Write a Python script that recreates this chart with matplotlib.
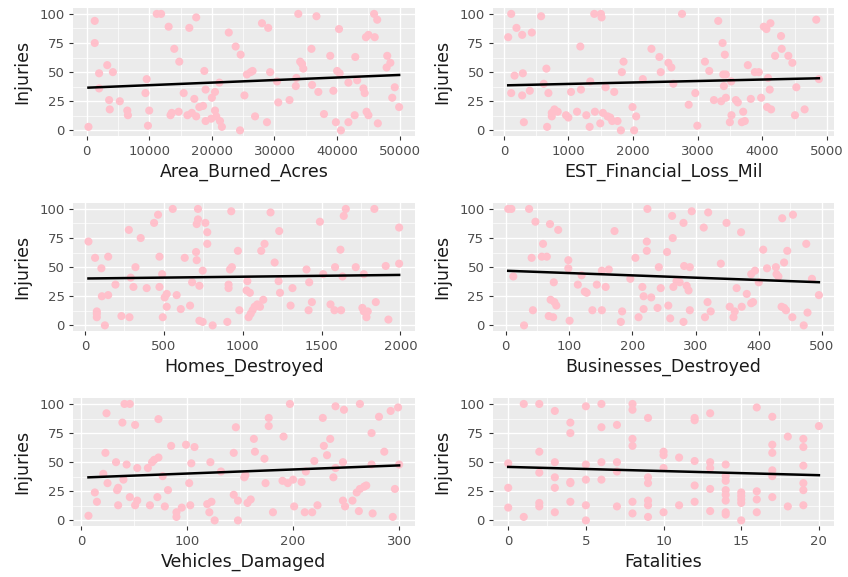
import numpy as np
import matplotlib
matplotlib.use('Agg')
import matplotlib.pyplot as plt
from matplotlib.ticker import MultipleLocator

plt.rcParams['font.family'] = ['DejaVu Sans']

# Area_Burned_Acres vs Injuries
area_x = [300, 1300, 1300, 2000, 2000, 3300, 3600, 3700, 4200, 5300, 6500, 6600,
          9600, 9400, 10000, 9800, 11200, 11900, 13100, 13400, 13600, 14000, 14800,
          14700, 15500, 16100, 16400, 16800, 17500, 17200, 17500, 18000, 18600,
          18800, 19000, 19000, 19900, 20000, 20500, 20500, 20700, 21200, 21300,
          21600, 22700, 23800, 24500, 24600, 25200, 25600, 26200, 26500, 26900,
          28000, 29000, 28800, 29300, 30400, 30600, 32400, 33500, 33400, 33800,
          34100, 34400, 34600, 35900, 36000, 36700, 37000, 37900, 38900, 39400,
          39800, 40000, 40400, 40300, 40600, 41800, 41800, 42900, 42800, 43200,
          44200, 44400, 44600, 44700, 45000, 45000, 45900, 46000, 46400, 46500,
          47900, 48000, 48500, 48800, 49200, 49900]
area_y = [3, 94, 75, 49, 36, 56, 26, 18, 50, 25, 17, 13,
          44, 32, 17, 4, 100, 100, 89, 13, 15, 70, 59,
          16, 32, 13, 88, 15, 97, 27, 12, 20, 21,
          51, 35, 8, 10, 28, 33, 17, 12, 41, 8,
          3, 84, 72, 0, 65, 30, 48, 50, 51, 12,
          92, 88, 7, 50, 42, 24, 26, 45, 38, 100,
          59, 57, 53, 70, 39, 98, 33, 14, 64, 34,
          7, 51, 49, 87, 0, 7, 41, 63, 13, 43,
          36, 32, 80, 16, 82, 13, 100, 80, 95, 6,
          54, 64, 58, 28, 37, 20]

# EST_Financial_Loss_Mil vs Injuries
loss_x = [67, 113, 113, 195, 165, 283, 293, 283, 309, 401, 432, 576, 617, 658,
          669, 689, 741, 741, 782, 833, 962, 998, 1039, 1132, 1193, 1183, 1276,
          1327, 1337, 1399, 1409, 1492, 1502, 1512, 1533, 1574, 1605, 1646, 1677,
          1708, 1759, 1811, 1826, 1852, 1991, 2016, 2047, 2150, 2284, 2407, 2428,
          2546, 2592, 2623, 2757, 2860, 2963, 2994, 3112, 3179, 3251, 3318, 3364,
          3385, 3395, 3405, 3420, 3436, 3436, 3518, 3498, 3523, 3590, 3621, 3683,
          3704, 3729, 3776, 3822, 3884, 3946, 3982, 4023, 4064, 4089, 4074, 4115,
          4126, 4136, 4198, 4290, 4300, 4403, 4465, 4506, 4527, 4655, 4835, 4876]
loss_y = [80, 100, 32, 88, 47, 82, 49, 30, 7, 34, 84, 98, 40, 53,
          3, 32, 15, 12, 18, 16, 13, 11, 33, 16, 35, 72, 13,
          3, 42, 100, 16, 6, 100, 97, 15, 37, 12, 11, 8,
          33, 8, 0, 50, 59, 20, 0, 12, 44, 70, 63, 50,
          58, 54, 40, 100, 22, 32, 4, 59, 51, 26, 94, 25,
          75, 48, 38, 65, 28, 48, 42, 7, 13, 26, 24, 7,
          16, 8, 56, 27, 50, 50, 28, 89, 87, 45, 20, 35,
          92, 18, 64, 81, 70, 64, 58, 13, 37, 18, 95, 44]

# Homes_Destroyed vs Injuries
homes_x = [23, 65, 76, 76, 76, 105, 108, 127, 148, 148, 194, 232, 283, 279,
           291, 308, 321, 354, 392, 439, 464, 473, 473, 490, 494, 506, 519, 519,
           557, 582, 608, 633, 667, 680, 705, 709, 709, 717, 717, 726, 726, 747,
           747, 764, 776, 776, 810, 903, 911, 911, 920, 932, 928, 970, 979, 1030,
           1025, 1038, 1046, 1051, 1063, 1076, 1093, 1110, 1118, 1131, 1139, 1177,
           1203, 1228, 1232, 1237, 1304, 1316, 1405, 1418, 1422, 1439, 1490, 1511,
           1557, 1582, 1586, 1620, 1624, 1633, 1641, 1654, 1717, 1759, 1768, 1768,
           1785, 1793, 1835, 1844, 1907, 1924, 1992, 1992]
homes_y = [72, 58, 12, 10, 7, 49, 25, 0, 26, 59, 35, 8, 7, 82,
           41, 33, 50, 75, 32, 88, 95, 59, 33, 44, 7, 24, 27, 16,
           100, 26, 14, 58, 17, 37, 63, 56, 87, 100, 91, 4, 34, 47,
           3, 88, 80, 70, 0, 3, 35, 32, 48, 50, 98, 64, 13, 38,
           30, 7, 28, 10, 13, 16, 18, 16, 64, 22, 70, 97,
           54, 38, 81, 28, 17, 32, 48, 13, 37, 20, 89, 44,
           18, 13, 50, 65, 13, 42, 94, 100, 50, 15, 44, 12,
           7, 12, 100, 20, 51, 5, 53, 84]

# Businesses_Destroyed vs Injuries
biz_x = [4, 9, 12, 29, 37, 41, 43, 47, 59, 57, 65, 70, 68, 71, 75, 76, 77, 80,
         83, 99, 99, 101, 114, 120, 125, 128, 137, 144, 152, 152, 158, 163, 172,
         182, 184, 197, 205, 210, 216, 218, 218, 223, 223, 224, 230, 240, 242,
         245, 255, 257, 260, 263, 264, 265, 270, 275, 281, 281, 282, 286, 289,
         291, 291, 294, 313, 315, 319, 320, 324, 340, 349, 354, 360, 362, 365,
         372, 373, 381, 388, 388, 391, 394, 400, 407, 413, 427, 428, 431, 436,
         437, 440, 440, 443, 445, 454, 453, 471, 475, 477, 484, 495]
biz_y = [100, 100, 42, 0, 100, 58, 13, 89, 70, 59, 59, 87, 8, 22, 7, 37, 20, 17,
         82, 56, 49, 4, 35, 43, 29, 28, 13, 35, 13, 47, 33, 48, 81,
         3, 12, 40, 58, 7, 33, 25, 14, 72, 64, 100, 24, 15, 50,
         32, 63, 17, 6, 94, 75, 33, 38, 37, 88, 3, 51, 34, 30,
         50, 13, 98, 84, 7, 20, 97, 12, 53, 88, 16, 7, 12, 32,
         80, 16, 27, 19, 44, 20, 47, 37, 65, 49, 50, 44, 42, 16,
         92, 54, 15, 13, 64, 95, 7, 0, 70, 11, 40, 26]

# Vehicles_Damaged vs Injuries
veh_x = [7, 13, 15, 21, 23, 24, 25, 33, 34, 35, 35, 39, 40, 41, 43, 46, 46, 51,
         51, 53, 53, 63, 65, 67, 69, 72, 73, 73, 77, 79, 82, 85, 90, 90, 95, 99,
         102, 103, 104, 107, 119, 122, 121, 123, 126, 132, 144, 144, 146, 148,
         148, 154, 155, 157, 160, 163, 164, 173, 174, 177, 177, 181, 191, 190,
         195, 197, 200, 201, 208, 211, 212, 218, 220, 223, 228, 229, 232, 235,
         238, 240, 240, 247, 248, 247, 249, 256, 260, 262, 263, 263, 267, 269,
         274, 274, 275, 281, 286, 292, 294, 296, 299, 300]
veh_y = [4, 24, 16, 40, 58, 92, 32, 50, 26, 28, 13, 84, 35, 100, 48, 100, 20, 82,
         13, 17, 45, 45, 13, 50, 52, 20, 54, 87, 38, 12, 26, 64, 7, 3, 11, 65,
         32, 13, 49, 63, 14, 50, 7, 16, 0, 42, 58, 22, 80, 17,
         0, 37, 39, 15, 18, 70, 59, 53, 32, 88, 81, 7, 72, 34,
         32, 100, 35, 12, 33, 7, 42, 7, 51, 13, 88, 64, 56, 70,
         37, 98, 45, 50, 95, 17, 12, 17, 24, 8, 100, 27, 29, 30,
         75, 48, 6, 89, 59, 94, 3, 27, 97, 48]

# Fatalities vs Injuries
fat_x = [0, 0, 0, 1, 1, 2, 2, 2, 2, 2, 3, 3, 3, 3, 3, 4, 4, 4, 4, 4,
         5, 5, 5, 5, 5, 6, 6, 6, 6, 7, 7, 7, 7, 8, 8, 8, 8, 8, 8,
         9, 9, 9, 9, 9, 9, 10, 10, 10, 10, 11, 11, 12, 12, 12, 12, 12,
         13, 13, 13, 13, 13, 14, 14, 14, 14, 14, 14, 14, 14,
         15, 15, 15, 15, 15, 16, 16, 16, 16, 17, 17, 17, 17, 17, 17,
         18, 18, 19, 19, 19, 19, 19, 19, 20]
fat_y = [49, 28, 11, 100, 3, 100, 59, 41, 15, 12, 94, 50, 37, 28, 7, 84, 75, 33, 32, 16,
         98, 48, 35, 13, 0, 100, 80, 50, 35, 82, 50, 42, 12, 100, 95, 70, 64, 16, 6,
         88, 37, 32, 17, 13, 3, 59, 56, 45, 7, 54, 13, 88, 86, 51, 30, 16,
         92, 50, 45, 27, 8, 48, 38, 34, 26, 22, 17, 7, 5,
         24, 21, 18, 15, 0, 97, 25, 18, 7, 89, 65, 58, 43, 38, 20,
         72, 12, 70, 63, 47, 32, 26, 13, 81]

panels = [
    ('Area_Burned_Acres', area_x, area_y, 10000),
    ('EST_Financial_Loss_Mil', loss_x, loss_y, 1000),
    ('Homes_Destroyed', homes_x, homes_y, 500),
    ('Businesses_Destroyed', biz_x, biz_y, 100),
    ('Vehicles_Damaged', veh_x, veh_y, 100),
    ('Fatalities', fat_x, fat_y, 5),
]

fig = plt.figure(figsize=(8.48, 5.77), dpi=100)
lefts = [0.086, 0.581]
bottoms = [0.764, 0.426, 0.088]
w, h = 0.403, 0.222

for i, (name, xs, ys, step) in enumerate(panels):
    ax = fig.add_axes([lefts[i % 2], bottoms[i // 2], w, h])
    xs = np.array(xs, dtype=float)
    ys = np.array(ys, dtype=float)
    ax.set_facecolor('#EBEBEB')
    for s in ax.spines.values():
        s.set_visible(False)

    ax.scatter(xs, ys, s=34, color='pink', edgecolors='none', zorder=3)
    # linear fit, drawn across the data range like geom_smooth(method='lm')
    slope, icpt = np.polyfit(xs, ys, 1)
    xl = np.array([xs.min(), xs.max()])
    ax.plot(xl, icpt + slope * xl, color='black', lw=1.8, zorder=4)

    pad = (xs.max() - xs.min()) * 0.05
    ax.set_xlim(xs.min() - pad, xs.max() + pad)
    ax.set_ylim(-5, 105)
    ax.xaxis.set_major_locator(MultipleLocator(step))
    ax.xaxis.set_minor_locator(MultipleLocator(step / 2))
    ax.yaxis.set_major_locator(MultipleLocator(25))
    ax.yaxis.set_minor_locator(MultipleLocator(12.5))
    ax.grid(which='major', color='white', lw=1.0, zorder=0)
    ax.grid(which='minor', color='white', lw=0.5, zorder=0)
    ax.set_axisbelow(True)
    ax.tick_params(which='major', length=3, width=0.8, color='#333333',
                   labelcolor='#4D4D4D', labelsize=9.5, pad=3)
    ax.tick_params(which='minor', length=0)
    ax.set_xlabel(name, fontsize=12.5, color='#1A1A1A', labelpad=4)
    ax.set_ylabel('Injuries', fontsize=12.5, color='#1A1A1A', labelpad=6)

fig.savefig('out.png', dpi=100)
